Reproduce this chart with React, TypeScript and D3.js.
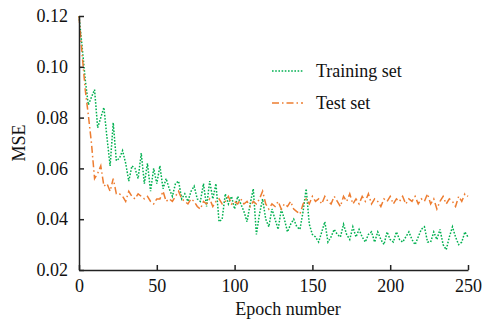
import React, { useRef, useEffect } from 'react';
import * as d3 from 'd3';

// sampled every 2 epochs, 0..250
const epochStep = 2;

const trainingMse = [
  0.12, 0.108, 0.095, 0.085, 0.088, 0.091, 0.076, 0.08, 0.084, 0.072,
  0.061, 0.078, 0.063, 0.064, 0.067, 0.062, 0.055, 0.061, 0.06, 0.056,
  0.066, 0.054, 0.062, 0.051, 0.06, 0.054, 0.061, 0.052, 0.056, 0.052,
  0.049, 0.054, 0.055, 0.048, 0.05, 0.047, 0.051, 0.053, 0.048, 0.047,
  0.054, 0.045, 0.055, 0.048, 0.054, 0.039, 0.04, 0.05, 0.046, 0.049,
  0.044, 0.049, 0.046, 0.043, 0.039, 0.046, 0.052, 0.034, 0.042, 0.048,
  0.04, 0.037, 0.044, 0.04, 0.036, 0.044, 0.04, 0.035, 0.038, 0.04,
  0.037, 0.036, 0.043, 0.052, 0.038, 0.034, 0.033, 0.031, 0.035, 0.039,
  0.031, 0.033, 0.036, 0.034, 0.033, 0.038, 0.034, 0.032, 0.037, 0.033,
  0.036, 0.033, 0.031, 0.034, 0.035, 0.031, 0.035, 0.032, 0.03, 0.035,
  0.032, 0.031, 0.035, 0.032, 0.031, 0.033, 0.035, 0.032, 0.03, 0.033,
  0.036, 0.037, 0.031, 0.031, 0.035, 0.032, 0.036, 0.03, 0.028, 0.033,
  0.037, 0.033, 0.03, 0.031, 0.035, 0.033,
];

const testMse = [
  0.12, 0.105, 0.091, 0.081, 0.07, 0.056, 0.058, 0.061, 0.053, 0.054,
  0.051, 0.056, 0.05, 0.05, 0.049, 0.047, 0.051, 0.049, 0.048, 0.05,
  0.049, 0.048, 0.049, 0.047, 0.046, 0.048, 0.048, 0.051, 0.047, 0.048,
  0.047, 0.049, 0.051, 0.048, 0.047, 0.046, 0.048, 0.047, 0.045, 0.044,
  0.047, 0.046, 0.048, 0.045, 0.047, 0.048, 0.046, 0.047, 0.049, 0.046,
  0.047, 0.046, 0.048, 0.046, 0.047, 0.045, 0.047, 0.046, 0.048, 0.051,
  0.046, 0.044, 0.046, 0.045, 0.047, 0.044, 0.046, 0.045, 0.047, 0.044,
  0.043, 0.042, 0.046, 0.048, 0.046, 0.049, 0.047, 0.048, 0.046, 0.049,
  0.047, 0.046, 0.049, 0.047, 0.045, 0.049, 0.047, 0.05, 0.046, 0.048,
  0.046, 0.049, 0.047, 0.05, 0.046, 0.048, 0.047, 0.045, 0.048, 0.047,
  0.049, 0.046, 0.048, 0.047, 0.049, 0.046, 0.048, 0.047, 0.049, 0.046,
  0.048, 0.047, 0.05, 0.046, 0.048, 0.044, 0.047, 0.049, 0.046, 0.048,
  0.047, 0.045, 0.049, 0.047, 0.05, 0.049,
];

const xTicks = [0, 50, 100, 150, 200, 250];
const yTicks = [0.02, 0.04, 0.06, 0.08, 0.1, 0.12];

const series = [
  { name: 'Training set', values: trainingMse, color: '#00b050', dash: '1.6,1.6' },
  { name: 'Test set', values: testMse, color: '#ed7d31', dash: '7,3,1.5,3' },
];

const App = () => {
  const ref = useRef<SVGSVGElement | null>(null);

  const width = 482;
  const height = 320;

  useEffect(() => {
    if (!ref.current) return;

    const margin = { top: 16, right: 14, bottom: 50, left: 79 };
    const font = '"Liberation Serif", "Times New Roman", serif';
    const fontSize = 18;

    const x = d3
      .scaleLinear()
      .domain([0, 250])
      .range([margin.left, width - margin.right]);

    const y = d3
      .scaleLinear()
      .domain([0.02, 0.12])
      .range([height - margin.bottom, margin.top]);

    const svg = d3.select(ref.current);
    svg.selectAll('*').remove();

    const line = d3
      .line<number>()
      .x((_, i) => x(i * epochStep))
      .y((d) => y(d));

    svg
      .append('g')
      .selectAll('path')
      .data(series)
      .join('path')
      .attr('fill', 'none')
      .attr('stroke', (d) => d.color)
      .attr('stroke-width', 1.5)
      .attr('stroke-dasharray', (d) => d.dash)
      .attr('d', (d) => line(d.values));

    const xAxis = svg
      .append('g')
      .attr('transform', `translate(0,${height - margin.bottom})`)
      .call(
        d3
          .axisBottom(x)
          .tickValues(xTicks)
          .tickSizeInner(-5)
          .tickSizeOuter(0)
          .tickPadding(9)
          .tickFormat(d3.format('d'))
      );

    const yAxis = svg
      .append('g')
      .attr('transform', `translate(${margin.left},0)`)
      .call(
        d3
          .axisLeft(y)
          .tickValues(yTicks)
          .tickSizeInner(-5)
          .tickSizeOuter(0)
          .tickPadding(11)
          .tickFormat(d3.format('.2f'))
      );

    [xAxis, yAxis].forEach((g) => {
      g.selectAll('.domain').attr('stroke', '#222').attr('stroke-width', 1.5);
      g.selectAll('.tick line').attr('stroke', '#222').attr('stroke-width', 1.5);
      g.selectAll('text')
        .attr('font-family', font)
        .attr('font-size', fontSize)
        .attr('fill', '#111');
    });

    svg
      .append('text')
      .attr('x', 288)
      .attr('y', 315)
      .attr('text-anchor', 'middle')
      .attr('font-family', font)
      .attr('font-size', fontSize)
      .attr('fill', '#111')
      .text('Epoch number');

    svg
      .append('text')
      .attr('transform', `translate(25,${(margin.top + height - margin.bottom) / 2}) rotate(-90)`)
      .attr('text-anchor', 'middle')
      .attr('font-family', font)
      .attr('font-size', fontSize)
      .attr('fill', '#111')
      .text('MSE');

    const legend = svg
      .append('g')
      .selectAll('g')
      .data(series)
      .join('g')
      .attr('transform', (_, i) => `translate(272,${71 + i * 32})`);

    legend
      .append('line')
      .attr('x1', 0)
      .attr('x2', 31)
      .attr('stroke', (d) => d.color)
      .attr('stroke-width', 1.5)
      .attr('stroke-dasharray', (d) => d.dash);

    legend
      .append('text')
      .attr('x', 44)
      .attr('y', 6)
      .attr('font-family', font)
      .attr('font-size', fontSize)
      .attr('fill', '#111')
      .text((d) => d.name);
  });

  return (
    <svg
      ref={ref}
      width={width}
      height={height}
      viewBox={`0 0 ${width} ${height}`}
      style={{ position: 'absolute', left: 0, top: 0, background: '#fff' }}
    />
  );
};

export default App;
